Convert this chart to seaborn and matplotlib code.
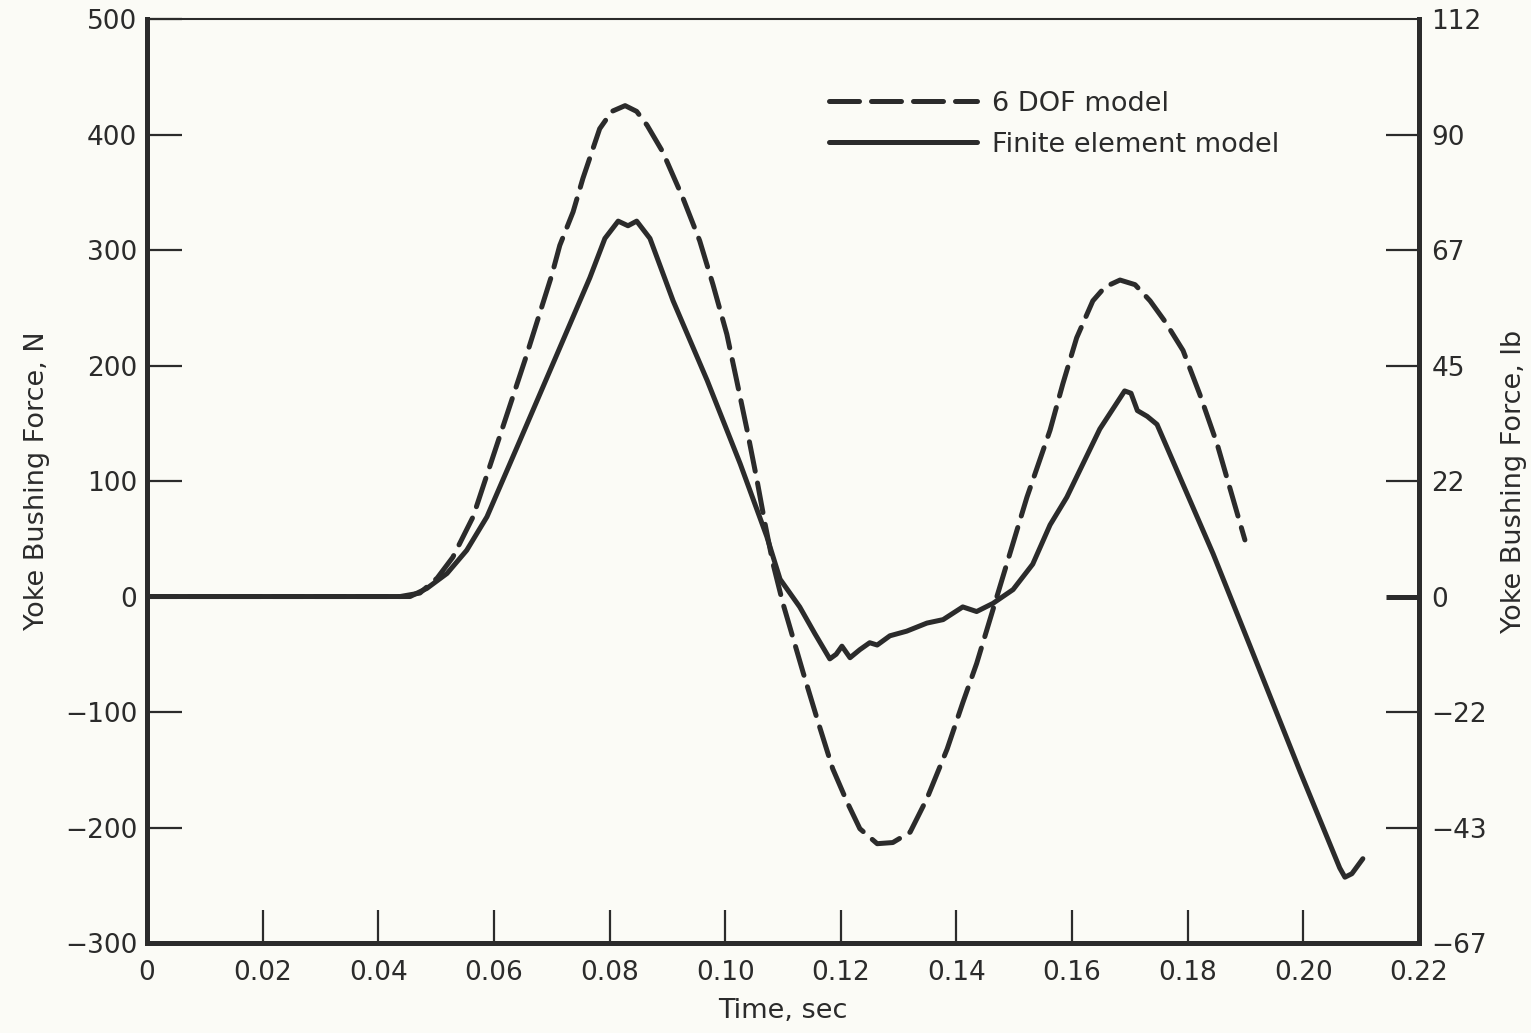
import matplotlib
matplotlib.use("Agg")
import matplotlib.pyplot as plt
import seaborn as sns
import pandas as pd

# Yoke bushing force vs. time: 6 DOF model (dashed) and finite element model (solid)
dof_time = [0.0, 0.0438, 0.0472, 0.0502, 0.0529, 0.0564, 0.0611, 0.0654, 0.0700,
            0.0714, 0.0737, 0.0754, 0.0783, 0.0804, 0.0827, 0.0847, 0.0865, 0.0892,
            0.0927, 0.0956, 0.0979, 0.1003, 0.1020, 0.1038, 0.1055, 0.1069, 0.1083,
            0.1100, 0.1135, 0.1161,
            0.1186, 0.1211, 0.1233, 0.1263, 0.1290, 0.1320, 0.1349, 0.1384, 0.1411,
            0.1435, 0.1458, 0.1487, 0.1522, 0.1562, 0.1584, 0.1608, 0.1636, 0.1657,
            0.1683, 0.1709, 0.1735, 0.1761, 0.1792, 0.1821, 0.1851, 0.1899]
dof_force = [0, 0, 3, 16, 34, 69, 140, 205, 278,
             304, 333, 362, 405, 420, 425, 420, 408, 385,
             345, 308, 270, 227, 187, 144, 101, 63, 28,
             -6, -66, -109,
             -149, -178, -201, -214, -213, -204, -175, -132, -92,
             -58, -20, 28, 86, 144, 184, 224, 256, 268,
             274, 270, 256, 238, 213, 175, 132, 49]

fem_time = [0.0, 0.0455, 0.0484, 0.0519, 0.0553, 0.0588, 0.0645, 0.0706, 0.0766,
            0.0792, 0.0815, 0.0832, 0.0847, 0.0870, 0.0910, 0.0969, 0.1026, 0.1072,
            0.1095, 0.1112, 0.1129, 0.1155, 0.1181, 0.1192, 0.1202, 0.1216, 0.1233,
            0.1250, 0.1263, 0.1285, 0.1314, 0.1349, 0.1377, 0.1411, 0.1435, 0.1463,
            0.1498, 0.1532, 0.1562, 0.1591, 0.1648, 0.1691, 0.1702, 0.1713, 0.1730,
            0.1747, 0.1844, 0.1908, 0.1994, 0.2063, 0.2072, 0.2084, 0.2103]
fem_force = [0, 0, 7, 20, 40, 69, 135, 206, 276,
             310, 325, 321, 325, 310, 256, 187, 115, 52,
             15, 3, -9, -32, -54, -50, -43, -53, -46,
             -40, -42, -34, -30, -23, -20, -9, -13, -6,
             6, 28, 62, 86, 145, 178, 176, 161, 156,
             149, 37, -43, -151, -235, -243, -240, -227]

x_ticks = [0.0, 0.02, 0.04, 0.06, 0.08, 0.10, 0.12, 0.14, 0.16, 0.18, 0.20, 0.22]
x_labels = ["0", "0.02", "0.04", "0.06", "0.08", "0.10", "0.12", "0.14", "0.16",
            "0.18", "0.20", "0.22"]
n_ticks = [500, 400, 300, 200, 100, 0, -100, -200, -300]
n_labels = ["500", "400", "300", "200", "100", "0", "\u2212100", "\u2212200", "\u2212300"]
lb_labels = ["112", "90", "67", "45", "22", "0", "\u221222", "\u221243", "\u221267"]

sns.set_theme(style="white")
plt.rcParams["font.family"] = ["DejaVu Sans"]

ink = "#2b2b2b"
paper = "#fbfbf6"
tick_fs = 19
text_fs = 19.5

fig = plt.figure(figsize=(15.31, 10.33), dpi=100, facecolor=paper)
ax = fig.add_axes([0.096, 0.0871, 0.8308, 0.8945])
ax.set_facecolor(paper)

dof = pd.DataFrame({"time": dof_time, "force": dof_force})
fem = pd.DataFrame({"time": fem_time, "force": fem_force})

sns.lineplot(data=dof, x="time", y="force", ax=ax, color=ink, lw=3.6,
             linestyle=(0, (6, 2.4)), label="6 DOF model",
             solid_capstyle="round", dash_capstyle="round")
sns.lineplot(data=fem, x="time", y="force", ax=ax, color=ink, lw=3.6,
             label="Finite element model", solid_joinstyle="round")

ax.set_xlim(0, 0.22)
ax.set_ylim(-300, 500)

ax.set_xticks(x_ticks)
ax.set_xticklabels(x_labels)
ax.set_yticks(n_ticks)
ax.set_yticklabels(n_labels)

ax.tick_params(axis="x", direction="in", length=24, width=1.6, color=ink,
               labelsize=tick_fs, labelcolor=ink, pad=12, bottom=True, top=False)
ax.tick_params(axis="y", direction="in", length=25, width=1.6, color=ink,
               labelsize=tick_fs, labelcolor=ink, pad=7, left=True, right=False)

# no tick marks at the corners
xt = ax.xaxis.get_major_ticks()
xt[0].tick1line.set_visible(False)
xt[-1].tick1line.set_visible(False)
yt = ax.yaxis.get_major_ticks()
yt[0].tick1line.set_visible(False)
yt[-1].tick1line.set_visible(False)

for side in ["left", "bottom", "right"]:
    ax.spines[side].set_visible(True)
    ax.spines[side].set_color(ink)
    ax.spines[side].set_linewidth(3.6)
ax.spines["top"].set_visible(True)
ax.spines["top"].set_color(ink)
ax.spines["top"].set_linewidth(1.5)

ax.set_xlabel("Time, sec", fontsize=text_fs, color=ink, labelpad=9)
ax.set_ylabel("Yoke Bushing Force, N", fontsize=text_fs, color=ink, labelpad=11)

# secondary scale in pounds on the right
ax2 = ax.twinx()
ax2.set_ylim(-300, 500)
ax2.set_yticks(n_ticks)
ax2.set_yticklabels(lb_labels)
ax2.tick_params(axis="y", direction="in", length=24, width=1.6, color=ink,
                labelsize=tick_fs, labelcolor=ink, pad=9, right=True, left=False)
rt = ax2.yaxis.get_major_ticks()
rt[0].tick2line.set_visible(False)
rt[-1].tick2line.set_visible(False)
rt[5].tick2line.set_markeredgewidth(3.6)
for s in ax2.spines.values():
    s.set_visible(False)
ax2.set_ylabel("Yoke Bushing Force, lb", fontsize=text_fs, color=ink, labelpad=10,
               rotation=90)

leg = ax.legend(loc="upper left", bbox_to_anchor=(0.528, 0.934), frameon=False,
                fontsize=text_fs, handlelength=5.45, handletextpad=0.55,
                labelspacing=0.55, borderaxespad=0)
for t in leg.get_texts():
    t.set_color(ink)

fig.savefig("out.png", dpi=100, facecolor=paper)
